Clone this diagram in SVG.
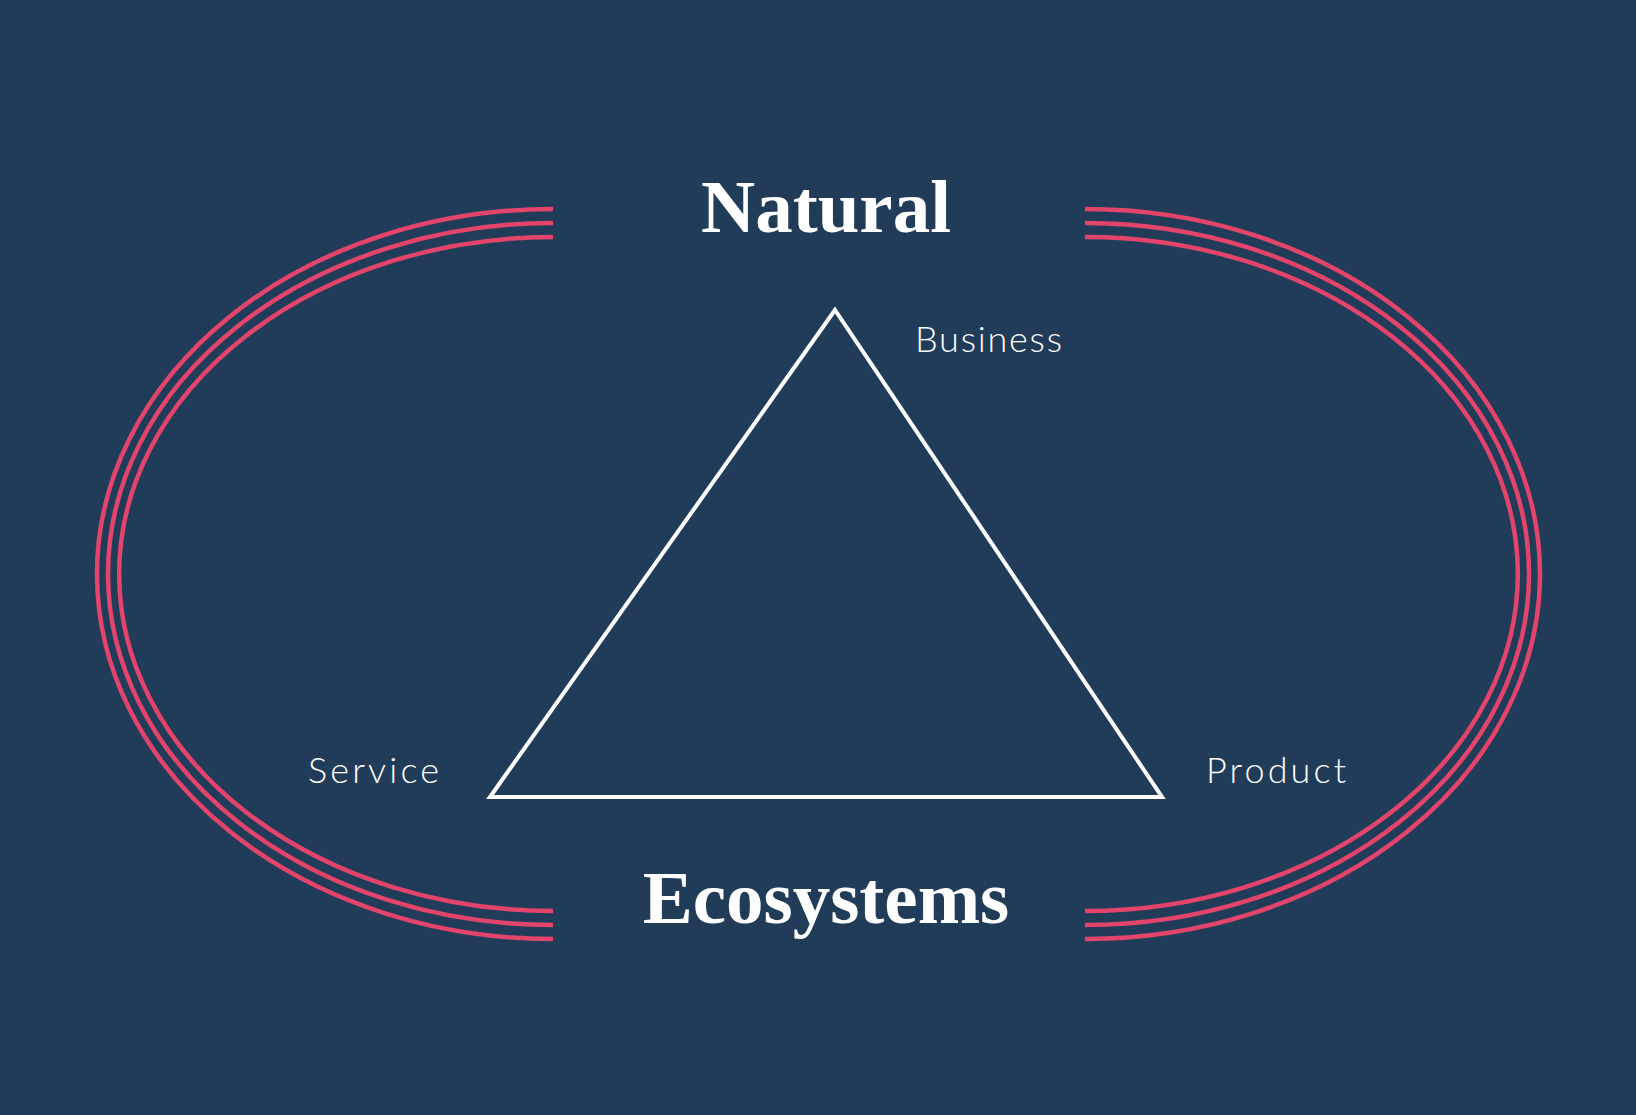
<svg xmlns="http://www.w3.org/2000/svg" width="1636" height="1115" viewBox="0 0 1636 1115">
<style>
.arc{fill:none;stroke:#e2446b;stroke-width:4.5}
.big{font-family:"Liberation Serif",serif;font-weight:bold;font-size:75px;fill:#fff;text-anchor:middle}
.lab{font-family:Lato,"Liberation Sans",sans-serif;font-weight:300;font-size:36px;fill:#fff}
</style>
<rect width="1636" height="1115" fill="#213c59"/>
<g id="rings">
<path class="arc" d="M553,209 A456,365 0 0 0 553,939"/>
<path class="arc" d="M553,223 A445,351 0 0 0 553,925"/>
<path class="arc" d="M553,237 A434,337 0 0 0 553,911"/>
<path class="arc" d="M1085,209 A455,365 0 0 1 1085,939"/>
<path class="arc" d="M1085,223 A444,351 0 0 1 1085,925"/>
<path class="arc" d="M1085,237 A433,337 0 0 1 1085,911"/>
</g>
<g id="triangle"><polygon points="835,310 490,797 1162,797" fill="none" stroke="#fff" stroke-width="4"/></g>
<g id="natural"><text class="big" x="826" y="232">Natural</text></g>
<g id="ecosystems"><text class="big" x="826" y="923">Ecosystems</text></g>
<g id="business"><text class="lab" x="915" y="352" textLength="147">Business</text></g>
<g id="service"><text class="lab" x="308" y="783" textLength="131">Service</text></g>
<g id="product"><text class="lab" x="1206" y="783" textLength="140">Product</text></g>
<g id="connectors"/>
</svg>
